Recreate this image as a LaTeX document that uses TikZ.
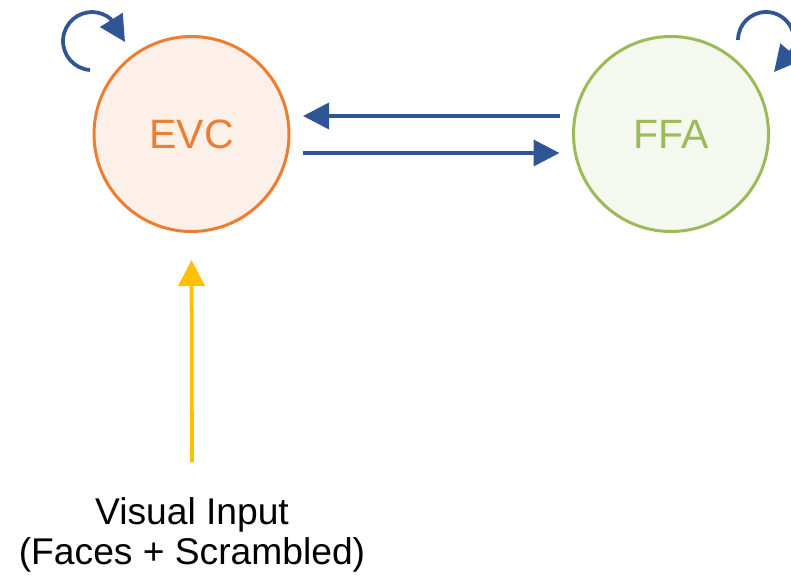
\documentclass[tikz,border=0pt]{standalone}
\usepackage{fontspec}
\setmainfont{Liberation Sans}
\usetikzlibrary{arrows.meta,calc}

\definecolor{evcline}{HTML}{ED7D31}
\definecolor{evcfill}{HTML}{FCF0E8}
\definecolor{ffaline}{HTML}{9BBB59}
\definecolor{ffafill}{HTML}{F4F8EE}
\definecolor{linkblue}{HTML}{2F5597}
\definecolor{inputgold}{HTML}{FFC000}

\tikzset{
  region/.style={circle, line width=3pt, minimum size=195pt, inner sep=0pt,
                 font=\fontsize{41}{49}\selectfont},
  link/.style={draw=linkblue, line width=3.75pt,
               -{Triangle[length=26pt,width=26pt]}},
  feed/.style={draw=inputgold, line width=3.75pt,
               -{Triangle[length=26pt,width=26pt]}},
}

\begin{document}
\begin{tikzpicture}[x=1pt,y=1pt]
  \useasboundingbox (0,0) rectangle (791,-577);

  % brain regions
  \node[region, draw=evcline, fill=evcfill, text=evcline] (evc) at (191.5,-134) {EVC};
  \node[region, draw=ffaline, fill=ffafill, text=ffaline] (ffa) at (671,-134) {FFA};

  % recurrent self-connections
  \draw[link] ($(evc.center)+(-101.5,64)$)
      arc[start angle=266, end angle=50, radius=29]
      -- ($(evc.center)+(-66.5,92)$);
  \draw[link] ($(ffa.center)+(67,94)$)
      arc[start angle=180, end angle=-22, radius=28]
      -- ($(ffa.center)+(103,62)$);

  % feedback and feedforward between regions
  \draw[link] ([shift={(-12,18)}]ffa.west) -- ([shift={(12.5,18)}]evc.east);
  \draw[link] ([shift={(12.5,-19)}]evc.east) -- ([shift={(-12.5,-19)}]ffa.west);

  % stimulus input
  \node[align=center, inner sep=0pt, font=\fontsize{37.2}{40.5}\selectfont]
      (input) at (192,-535) {Visual Input\\(Faces + Scrambled)};
  \coordinate (src) at (192,-462);
  \draw[feed] (src) -- ([yshift=-27pt]evc.south);
\end{tikzpicture}
\end{document}
